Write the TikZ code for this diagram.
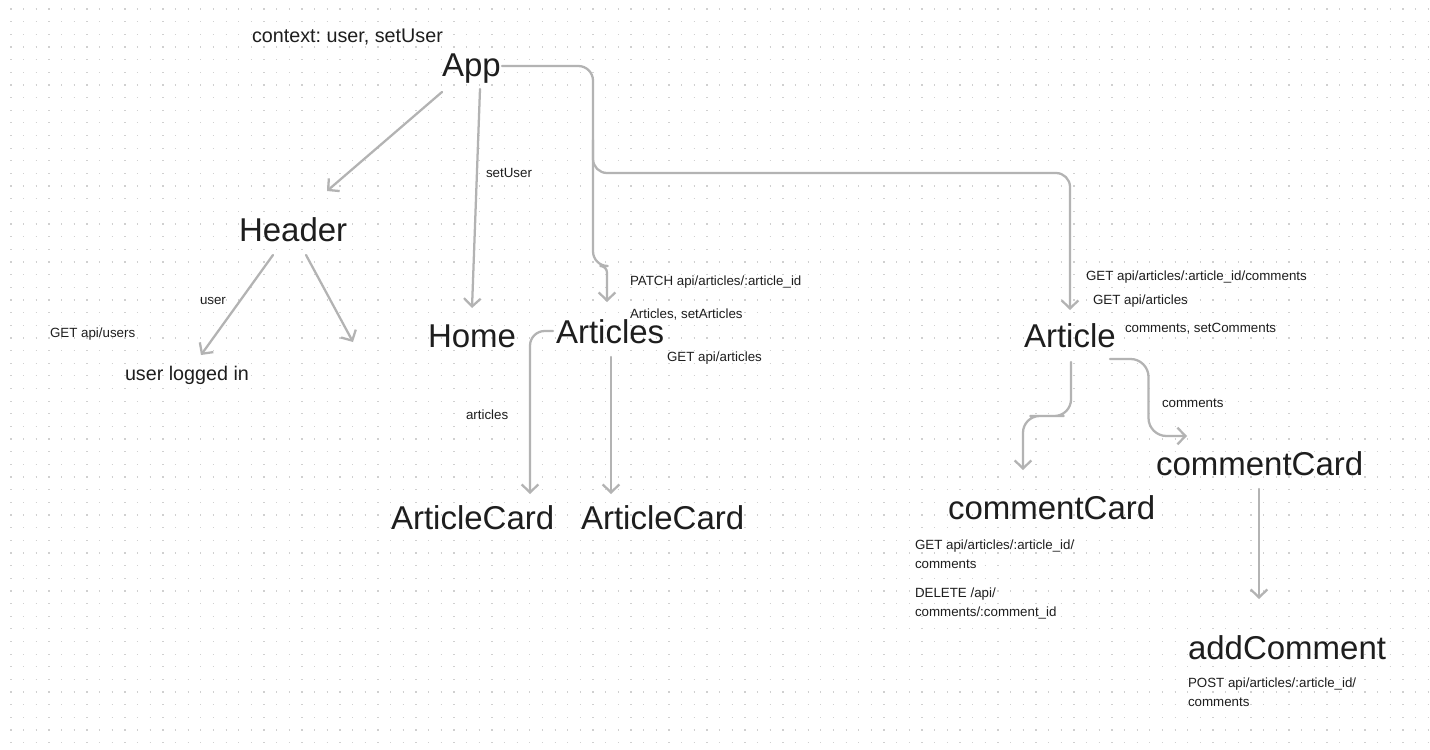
\documentclass[tikz,border=0pt]{standalone}
\usepackage{fontspec}
\setmainfont{Liberation Sans}
\frenchspacing
\usetikzlibrary{arrows.meta,calc}
\definecolor{ink}{HTML}{1E1E1E}
\definecolor{wire}{HTML}{B3B3B3}
\definecolor{dotc}{HTML}{D0D0D0}
\tikzset{
  txt/.style={text=ink, inner sep=0pt, outer sep=0pt, anchor=base west},
  big/.style={txt, font=\fontsize{24.75pt}{30pt}\selectfont},
  mid/.style={txt, font=\fontsize{14.8pt}{18pt}\selectfont},
  lbl/.style={txt, font=\fontsize{10pt}{12pt}\selectfont},
  conn/.style={draw=wire, line width=1.7pt, line cap=round, line join=round,
    -{Straight Barb[length=6pt,width=12.5pt]}},
  dotrow/.style={draw=dotc, line width=0.95pt, dash pattern=on 0.95pt off 8.54pt},
}
\begin{document}
\begin{tikzpicture}[x=0.75pt,y=-0.75pt]
\useasboundingbox (0,0) rectangle (1430,749);
\fill[white] (0,0) rectangle (1430,749);
% dot grid
\foreach \r in {0,...,58}{
  \draw[dotrow] (10.4,{9+12.65*\r}) -- (1430,{9+12.65*\r});
}
% main nodes
\node[mid] (ctx) at (252,43) {context: user, setUser};
\node[big] (app) at (442,77) {App};
\node[big] (header) at (239,241) {Header};
\node[big] (home) at (428,347) {Home};
\node[big] (articles) at (556,343) {Articles};
\node[big] (article) at (1024,347) {Article};
\node[mid] (logged) at (125,380) {user logged in};
\node[big] (card1) at (391,529) {ArticleCard};
\node[big] (card2) at (581,529) {ArticleCard};
\node[big] (ccR) at (1156,475) {commentCard};
\node[big] (ccL) at (948,519) {commentCard};
\node[big] (addc) at (1188,659) {addComment};
% labels
\node[lbl] (lsetuser) at (486,177) {setUser};
\node[lbl] (luser) at (200,304) {user};
\node[lbl] (lgetusers) at (50,337) {GET api/users};
\node[lbl] (lpatch) at (630,285) {PATCH api/articles/:article\_id};
\node[lbl] (lsetart) at (630,318) {Articles, setArticles};
\node[lbl] (lgetart) at (667,361) {GET api/articles};
\node[lbl] (larticles) at (466,419) {articles};
\node[lbl] (lgetcom) at (1086,280) {GET api/articles/:article\_id/comments};
\node[lbl] (lgetart2) at (1093,304) {GET api/articles};
\node[lbl] (lsetcom) at (1125,332) {comments, setComments};
\node[lbl] (lcomments) at (1162,407) {comments};
\node[lbl] (lcc1) at (915,549) {GET api/articles/:article\_id/};
\node[lbl] (lcc2) at (915,568) {comments};
\node[lbl] (ldel1) at (915,597) {DELETE /api/};
\node[lbl] (ldel2) at (915,616) {comments/:comment\_id};
\node[lbl] (lpost1) at (1188,687) {POST api/articles/:article\_id/};
\node[lbl] (lpost2) at (1188,706) {comments};
% connector end points, relative to nodes
\coordinate (appA) at ($(app.base west)+(0,15)$);
\coordinate (appB) at ($(app.base west)+(38,12)$);
\coordinate (appC) at ($(app.base west)+(60,-11)$);
\coordinate (headT) at ($(header.base west)+(88,-50)$);
\coordinate (headL) at ($(header.base west)+(34,14)$);
\coordinate (headR) at ($(header.base west)+(67,14)$);
\coordinate (headRend) at ($(header.base west)+(114,101)$);
\coordinate (homeT) at ($(home.base west)+(44,-39)$);
\coordinate (loggedT) at ($(logged.base west)+(76,-25)$);
\coordinate (artsT) at ($(articles.base west)+(51,-41)$);
\coordinate (artsL) at ($(articles.base west)+(-3,-12)$);
\coordinate (artsB) at ($(articles.base west)+(55,14)$);
\coordinate (card1T) at ($(card1.base west)+(139,-35)$);
\coordinate (card2T) at ($(card2.base west)+(30,-35)$);
\coordinate (artT) at ($(article.base west)+(46,-37)$);
\coordinate (artB) at ($(article.base west)+(47,15)$);
\coordinate (artR) at ($(article.base west)+(86,12)$);
\coordinate (ccLT) at ($(ccL.base west)+(75,-49)$);
\coordinate (ccRL) at ($(ccR.base west)+(31,-39)$);
\coordinate (ccRB) at ($(ccR.base west)+(103,14)$);
\coordinate (addcT) at ($(addc.base west)+(71,-60)$);
% connectors
\draw[conn] (appA) -- (headT);
\draw[conn] (appB) -- (homeT);
\draw[conn] (headL) -- (loggedT);
\draw[conn] (headR) -- (headRend);
\draw[conn, rounded corners=11pt] (appC) -| ($(artsT)+(-14,-36)$)
  [rounded corners=5pt] -| (artsT);
\draw[conn, rounded corners=10.5pt] ($(appC)+(91,74)$) |- ($(artT)+(0,-137)$) -- (artT);
\draw[conn, rounded corners=11pt] (artsL) -| (card1T);
\draw[conn] (artsB) -- (card2T);
\draw[conn, rounded corners=12.5pt] (artB) |- ($(artB)!0.5!(ccLT)$) -| (ccLT);
\draw[conn, rounded corners=13.5pt] (artR) -| ($(artR)!0.5!(ccRL)$) |- (ccRL);
\draw[conn] (ccRB) -- (addcT);
\end{tikzpicture}
\end{document}
